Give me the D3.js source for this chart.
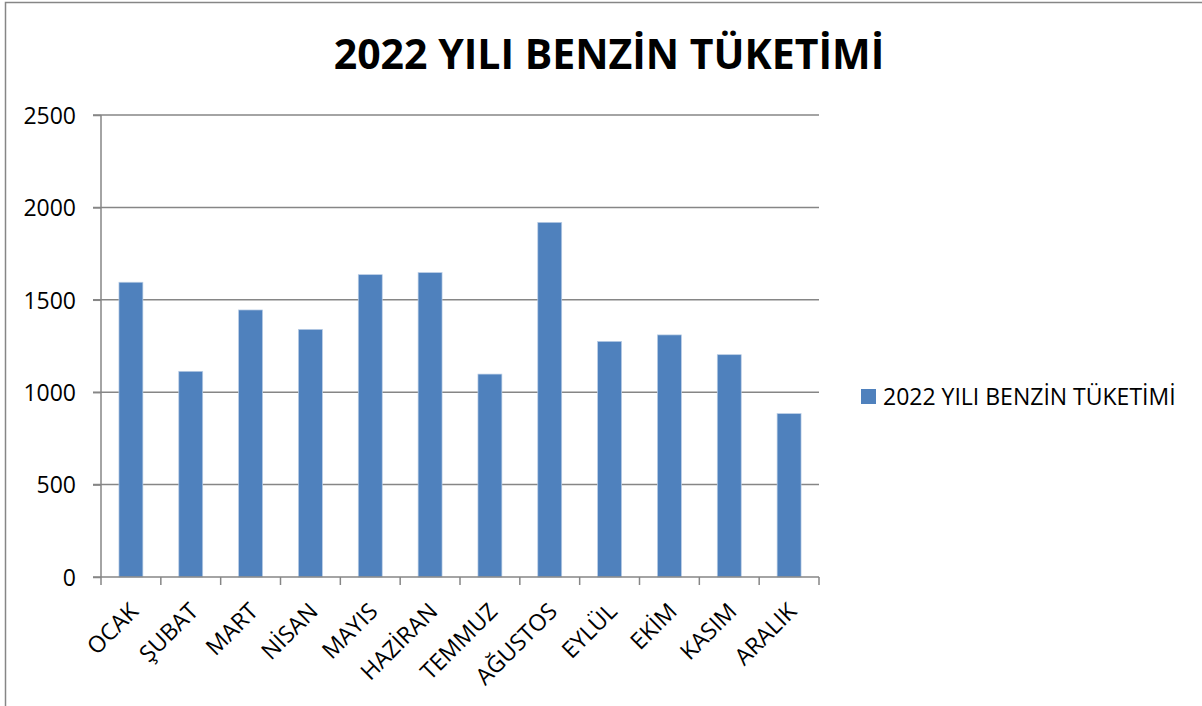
<!DOCTYPE html>
<html>
<head>
<meta charset="utf-8">
<script src="https://cdn.jsdelivr.net/npm/d3@7/dist/d3.min.js"></script>
<style>
  body { margin: 0; background: #fff; }
  text { font-family: "Open Sans", sans-serif; fill: #000; }
</style>
</head>
<body>
<svg width="1202" height="706"></svg>
<script>
var months = ['OCAK', 'ŞUBAT', 'MART', 'NİSAN', 'MAYIS', 'HAZİRAN', 'TEMMUZ', 'AĞUSTOS', 'EYLÜL', 'EKİM', 'KASIM', 'ARALIK'];
var values = [1595, 1113, 1445, 1340, 1636, 1647, 1098, 1919, 1275, 1310, 1203, 884];
var yTicks = [0, 500, 1000, 1500, 2000, 2500];
var title = '2022 YILI BENZİN TÜKETİMİ';
var seriesName = '2022 YILI BENZİN TÜKETİMİ';

var svg = d3.select('svg');

// chart frame
svg.append('rect')
    .attr('x', 5.5).attr('y', 2.5)
    .attr('width', 1220).attr('height', 720)
    .style('fill', 'none')
    .style('stroke', '#868686')
    .style('stroke-width', 1.5);

var plotLeft = 101, plotRight = 819, plotTop = 115, plotBottom = 577;

var x = d3.scaleBand().domain(months).range([plotLeft, plotRight])
    .paddingInner(0.6).paddingOuter(0.3);
var xSlots = d3.scaleBand().domain(months).range([plotLeft, plotRight]);
var y = d3.scaleLinear().domain([0, 2500]).range([plotBottom, plotTop]);

// gridlines
svg.append('g').selectAll('line')
    .data(yTicks.filter(function(d) { return d > 0; }))
    .join('line')
    .attr('x1', plotLeft - 8).attr('x2', plotRight)
    .attr('y1', function(d) { return y(d); })
    .attr('y2', function(d) { return y(d); })
    .style('stroke', '#868686')
    .style('stroke-width', 1.5);

// bars
svg.append('g').selectAll('rect')
    .data(values)
    .join('rect')
    .attr('x', function(d, i) { return x(months[i]); })
    .attr('y', function(d) { return y(d); })
    .attr('width', x.bandwidth())
    .attr('height', function(d) { return plotBottom - y(d); })
    .style('fill', '#4F81BD')
    .style('stroke', '#B9CDE5')
    .style('stroke-width', 0.7);

// y axis
var yAxis = svg.append('g')
    .attr('transform', 'translate(' + plotLeft + ',0)')
    .call(d3.axisLeft(y).tickValues(yTicks).tickSize(8).tickPadding(17).tickFormat(d3.format('d')));
yAxis.select('.domain').style('stroke', '#868686').style('stroke-width', 1.5)
    .attr('d', 'M0,' + plotTop + 'V' + plotBottom);
yAxis.selectAll('.tick line').style('stroke', '#868686').style('stroke-width', 1.5);
yAxis.selectAll('text').style('font-size', '23px').style('font-family', '"Open Sans", sans-serif').attr('dy', '0.36em');

// x axis line
var xAxis = svg.append('g')
    .attr('transform', 'translate(0,' + plotBottom + ')')
    .call(d3.axisBottom(xSlots).tickSize(0).tickFormat(''));
xAxis.select('.domain').style('stroke', '#868686').style('stroke-width', 1.5)
    .attr('d', 'M' + (plotLeft - 8) + ',0H' + plotRight);
xAxis.selectAll('.tick').remove();

// category separators
svg.append('g').selectAll('line')
    .data(months.concat(['end']))
    .join('line')
    .attr('x1', function(d, i) { return i < months.length ? xSlots(d) : plotRight; })
    .attr('x2', function(d, i) { return i < months.length ? xSlots(d) : plotRight; })
    .attr('y1', plotBottom).attr('y2', plotBottom + 8)
    .style('stroke', '#868686')
    .style('stroke-width', 1.5);

// category labels
svg.append('g').selectAll('text')
    .data(months)
    .join('text')
    .attr('transform', function(d) {
        var cx = xSlots(d) + xSlots.bandwidth() / 2;
        return 'translate(' + (cx + 3) + ',' + (plotBottom + 30) + ') rotate(-45)';
    })
    .attr('text-anchor', 'end')
    .attr('dy', '0.36em')
    .style('font-size', '23px')
    .text(function(d) { return d; });

// title
svg.append('text')
    .attr('x', 609).attr('y', 69)
    .attr('text-anchor', 'middle')
    .style('font-size', '41px')
    .style('font-weight', 'bold')
    .text(title);

// legend
var legend = svg.append('g').attr('transform', 'translate(861,389)');
legend.append('rect')
    .attr('width', 15).attr('height', 15)
    .style('fill', '#4F81BD');
legend.append('text')
    .attr('x', 22).attr('y', 8)
    .attr('dy', '0.36em')
    .style('font-size', '23px')
    .text(seriesName);
</script>
</body>
</html>
